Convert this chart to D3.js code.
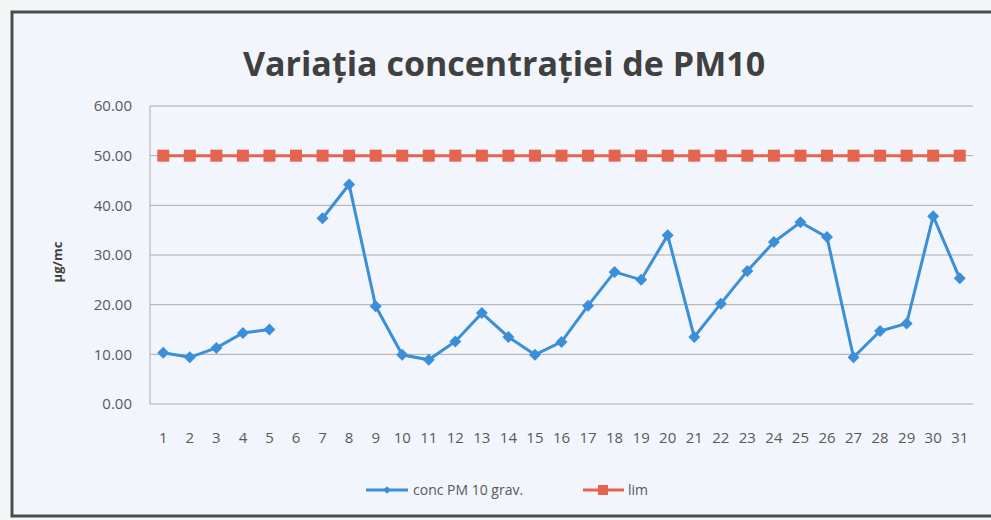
<!DOCTYPE html>
<html lang="ro">
<head>
<meta charset="UTF-8">
<title>Variatia concentratiei de PM10</title>
<script src="https://d3js.org/d3.v7.min.js"></script>
<style>
  body { margin: 0; background: #f4f5f7; }
  text { font-family: "Open Sans", "Liberation Sans", sans-serif; }
</style>
</head>
<body>
<div id="chart"></div>
<script>
// zilele lunii
var days = d3.range(1, 32);
// concentratie PM10 (ziua 6 lipsa)
var pm10 = [10.3, 9.4, 11.3, 14.3, 15.0, null, 37.4, 44.2, 19.7, 9.9,
            8.9, 12.6, 18.3, 13.5, 9.9, 12.5, 19.8, 26.6, 25.0, 34.0,
            13.5, 20.2, 26.8, 32.6, 36.6, 33.6, 9.4, 14.7, 16.2, 37.8, 25.3];
// valoare limita
var lim = days.map(function() { return 50; });
var yTicks = [0, 10, 20, 30, 40, 50, 60];

var width = 991, height = 520;
var svg = d3.select("#chart").append("svg")
    .attr("width", width)
    .attr("height", height);

// cadru
svg.append("rect")
    .attr("x", 12).attr("y", 12)
    .attr("width", 990).attr("height", 504)
    .attr("fill", "#f2f5fb")
    .attr("stroke", "#4a4d4a")
    .attr("stroke-width", 3);

svg.append("text")
    .attr("x", 504).attr("y", 76)
    .attr("text-anchor", "middle")
    .style("font-size", "34px")
    .style("font-weight", "bold")
    .attr("fill", "#404040")
    .text("Variaţia concentraţiei de PM10");

var plotLeft = 150, plotRight = 973, plotTop = 106, plotBottom = 404;

var x = d3.scaleBand().domain(days).range([plotLeft, plotRight]);
var y = d3.scaleLinear().domain([0, 60]).range([plotBottom, plotTop]);
var cx = function(d) { return x(d) + x.bandwidth() / 2; };

// grila
svg.append("g")
    .selectAll("line")
    .data(yTicks)
    .enter().append("line")
    .attr("x1", plotLeft).attr("x2", plotRight)
    .attr("y1", d => y(d)).attr("y2", d => y(d))
    .attr("stroke", "#a9abad")
    .attr("stroke-width", 1);

svg.append("line")
    .attr("x1", plotLeft).attr("x2", plotLeft)
    .attr("y1", plotTop).attr("y2", plotBottom)
    .attr("stroke", "#a9abad");

var yAxis = svg.append("g")
    .attr("transform", "translate(" + plotLeft + ",0)")
    .call(d3.axisLeft(y).tickValues(yTicks).tickFormat(d3.format(".2f")).tickSize(0).tickPadding(18));
yAxis.select(".domain").remove();
yAxis.selectAll("text").style("font-size", "15px").attr("fill", "#595959");

var xAxis = svg.append("g")
    .attr("transform", "translate(0," + plotBottom + ")")
    .call(d3.axisBottom(x).tickSize(0).tickPadding(28));
xAxis.select(".domain").remove();
xAxis.selectAll("text").style("font-size", "15px").attr("fill", "#595959");

svg.append("text")
    .attr("transform", "translate(62,262) rotate(-90)")
    .attr("text-anchor", "middle")
    .style("font-size", "13px")
    .style("font-weight", "bold")
    .attr("fill", "#404040")
    .text("µg/mc");

var blue = "#3b8fd9", red = "#e5644f";

// serie limita
var limData = days.map(function(d, i) { return { d: d, v: lim[i] }; });
svg.append("path")
    .datum(limData)
    .attr("fill", "none")
    .attr("stroke", red)
    .attr("stroke-width", 3)
    .attr("d", d3.line().x(p => cx(p.d)).y(p => y(p.v)));
svg.append("g")
    .selectAll("rect")
    .data(limData)
    .enter().append("rect")
    .attr("x", p => cx(p.d) - 6).attr("y", p => y(p.v) - 6)
    .attr("width", 12).attr("height", 12)
    .attr("fill", red);

// serie PM10
var pmData = days.map(function(d, i) { return { d: d, v: pm10[i] }; });
svg.append("path")
    .datum(pmData)
    .attr("fill", "none")
    .attr("stroke", blue)
    .attr("stroke-width", 3)
    .attr("d", d3.line().defined(p => p.v !== null).x(p => cx(p.d)).y(p => y(p.v)));
// romb = patrat rotit
var diamond = d3.symbol().type(d3.symbolSquare).size(72);
svg.append("g")
    .selectAll("path")
    .data(pmData.filter(p => p.v !== null))
    .enter().append("path")
    .attr("d", diamond)
    .attr("transform", p => "translate(" + cx(p.d) + "," + y(p.v) + ") rotate(45)")
    .attr("fill", blue);

// legenda
var legend = svg.append("g").attr("transform", "translate(0,490)");
legend.append("line").attr("x1", 366).attr("x2", 408).attr("y1", 0).attr("y2", 0)
    .attr("stroke", blue).attr("stroke-width", 3);
legend.append("path").attr("d", d3.symbol().type(d3.symbolSquare).size(30))
    .attr("transform", "translate(387,0) rotate(45)").attr("fill", blue);
legend.append("text").attr("x", 413).attr("y", 5)
    .style("font-size", "14px").attr("fill", "#595959").text("conc PM 10 grav.");
legend.append("line").attr("x1", 583).attr("x2", 624).attr("y1", 0).attr("y2", 0)
    .attr("stroke", red).attr("stroke-width", 3);
legend.append("rect").attr("x", 598).attr("y", -5).attr("width", 10).attr("height", 10)
    .attr("fill", red);
legend.append("text").attr("x", 628).attr("y", 5)
    .style("font-size", "14px").attr("fill", "#595959").text("lim");
</script>
</body>
</html>
